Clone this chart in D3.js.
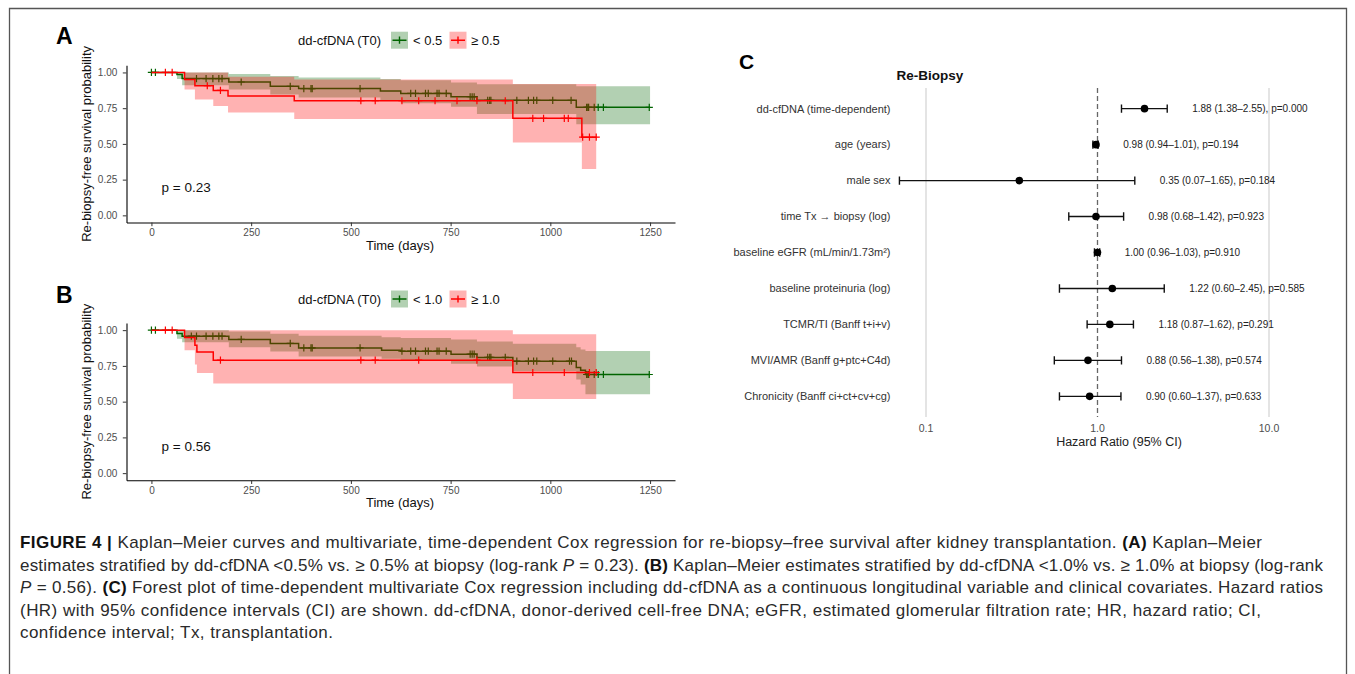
<!DOCTYPE html>
<html>
<head>
<meta charset="utf-8">
<script src="https://cdn.jsdelivr.net/npm/d3@7"></script>
<style>
  body { margin: 0; background: #fff; }
  svg { display: block; }
</style>
</head>
<body>
<svg id="fig" width="1355" height="674"></svg>
<script>
// ---------------- data ----------------
const timeTicks = [0, 250, 500, 750, 1000, 1250];
const survTicks = [0, 0.25, 0.5, 0.75, 1];

// Panel A: dd-cfDNA < 0.5 vs >= 0.5
const aLowTimes  = [0, 64, 77, 194, 298, 369, 574, 625, 751, 816, 1065];
const aLowSurv   = [1, 0.985, 0.957, 0.933, 0.903, 0.887, 0.870, 0.853, 0.830, 0.805, 0.756];
const aLowLower  = [1, 0.955, 0.910, 0.880, 0.845, 0.825, 0.805, 0.785, 0.760, 0.710, 0.637];
const aLowUpper  = [1, 1, 1, 0.990, 0.975, 0.965, 0.955, 0.945, 0.930, 0.918, 0.904];
const aLowEnd    = 1250;
const aLowCensor = [0, 10, 113, 137, 154, 169, 177, 225, 348, 382, 400, 403, 523, 650, 662, 687, 694,
                    716, 721, 739, 799, 804, 809, 843, 848, 851, 916, 945, 958, 966, 1006, 1052,
                    1091, 1094, 1096, 1110, 1120, 1133, 1248];

const aHighTimes  = [0, 83, 109, 155, 192, 358, 906, 1079];
const aHighSurv   = [1, 0.951, 0.907, 0.874, 0.835, 0.802, 0.679, 0.547];
const aHighLower  = [1, 0.880, 0.810, 0.765, 0.720, 0.675, 0.510, 0.325];
const aHighUpper  = [1, 1, 1, 1, 0.970, 0.950, 0.920, 0.920];
const aHighEnd    = 1115;
const aHighCensor = [35, 52, 140, 173, 525, 561, 628, 670, 711, 766, 816, 887, 956, 983, 1035, 1045,
                     1081, 1098, 1115];

// Panel B: dd-cfDNA < 1.0 vs >= 1.0
const bLowTimes  = [0, 64, 77, 194, 298, 369, 577, 625, 751, 816, 906, 1065, 1076, 1088];
const bLowSurv   = [1, 0.977, 0.958, 0.935, 0.907, 0.876, 0.860, 0.853, 0.832, 0.809, 0.783, 0.739, 0.720, 0.690];
const bLowLower  = [1, 0.940, 0.915, 0.880, 0.850, 0.815, 0.800, 0.790, 0.765, 0.745, 0.715, 0.655, 0.620, 0.552];
const bLowUpper  = [1, 1, 1, 0.990, 0.975, 0.960, 0.950, 0.945, 0.935, 0.920, 0.905, 0.880, 0.865, 0.855];
const bLowEnd    = 1250;
const bLowCensor = [0, 10, 100, 113, 137, 154, 169, 177, 225, 348, 382, 400, 403, 523, 628, 650, 662,
                    687, 694, 716, 721, 739, 799, 804, 809, 843, 848, 851, 887, 916, 945, 958, 966,
                    1006, 1048, 1053, 1091, 1094, 1096, 1110, 1120, 1133, 1248];

const bHighTimes  = [0, 83, 109, 114, 155, 906];
const bHighSurv   = [1, 0.949, 0.895, 0.848, 0.790, 0.704];
const bHighLower  = [1, 0.860, 0.760, 0.700, 0.627, 0.519];
const bHighUpper  = [1, 1, 1, 1, 1, 0.972];
const bHighEnd    = 1115;
const bHighCensor = [35, 52, 173, 525, 561, 670, 816, 956, 1035, 1098, 1115];

// Panel C: time-dependent Cox model
const covariates = [
  "dd-cfDNA (time-dependent)",
  "age (years)",
  "male sex",
  "time Tx \u2192 biopsy (log)",
  "baseline eGFR (mL/min/1.73m\u00B2)",
  "baseline proteinuria (log)",
  "TCMR/TI (Banff t+i+v)",
  "MVI/AMR (Banff g+ptc+C4d)",
  "Chronicity (Banff ci+ct+cv+cg)"
];
const hazardRatios = [1.88, 0.98, 0.35, 0.98, 1.00, 1.22, 1.18, 0.88, 0.90];
const ciLower      = [1.38, 0.94, 0.07, 0.68, 0.96, 0.60, 0.87, 0.56, 0.60];
const ciUpper      = [2.55, 1.01, 1.65, 1.42, 1.03, 2.45, 1.62, 1.38, 1.37];
const pValues      = ["0.000", "0.194", "0.184", "0.923", "0.910", "0.585", "0.291", "0.574", "0.633"];
const hrTicks      = [0.1, 1, 10];
const hrTickLabels = ["0.1", "1.0", "10.0"];
const refHR        = 1;

// ---------------- drawing ----------------
const FONT = "'Liberation Sans', Arial, Helvetica, sans-serif";
const COL_LOW = "#006400";
const COL_HIGH = "#ff0000";
const svg = d3.select("#fig").style("font-family", FONT);

svg.append("rect").attr("width", 1355).attr("height", 674).attr("fill", "#fff");
// figure frame
svg.append("path").attr("d", "M9.5,674V8.5H1346.5V674")
  .attr("fill", "none").attr("stroke", "#555").attr("stroke-width", 1.3);

function survAt(times, vals, t) {
  let v = vals[0];
  for (let i = 0; i < times.length; i++) if (times[i] <= t) v = vals[i];
  return v;
}

function drawKM(opt) {
  const x = d3.scaleLinear().domain([-62.5, 1312.5]).range([126.5, 675]);
  const y = d3.scaleLinear().domain([-0.05, 1.05]).range([opt.bottom, opt.top]);
  const g = svg.append("g");

  opt.groups.forEach(gr => {
    const pts = gr.times.map((t, i) => ({ t, s: gr.surv[i], lo: gr.lower[i], hi: gr.upper[i] }));
    const last = pts[pts.length - 1];
    pts.push({ t: gr.end, s: last.s, lo: last.lo, hi: last.hi });

    g.append("path").datum(pts)
      .attr("d", d3.area().curve(d3.curveStepAfter)
        .x(d => x(d.t)).y0(d => y(d.lo)).y1(d => y(d.hi)))
      .attr("fill", gr.color).attr("fill-opacity", 0.3);

    g.append("path").datum(pts)
      .attr("d", d3.line().curve(d3.curveStepAfter).x(d => x(d.t)).y(d => y(d.s)))
      .attr("fill", "none").attr("stroke", gr.color).attr("stroke-width", 1.5);

    g.append("g").selectAll("path").data(gr.censor).join("path")
      .attr("d", c => {
        const cx = x(c), cy = y(survAt(gr.times, gr.surv, c));
        return `M${cx - 3.6},${cy}H${cx + 3.6}M${cx},${cy - 3.6}V${cy + 3.6}`;
      })
      .attr("stroke", gr.color).attr("stroke-width", 1.2);
  });

  // axes
  const xa = g.append("g").attr("transform", `translate(0,${opt.bottom})`)
    .call(d3.axisBottom(x).tickValues(timeTicks).tickFormat(d3.format("d"))
      .tickSize(3.7).tickSizeOuter(0).tickPadding(2.5));
  const ya = g.append("g").attr("transform", `translate(126.5,0)`)
    .call(d3.axisLeft(y).tickValues(survTicks).tickFormat(d3.format(".2f"))
      .tickSize(3.7).tickSizeOuter(0).tickPadding(5.5));
  [xa, ya].forEach(a => {
    a.attr("font-family", FONT).attr("font-size", 10);
    a.select(".domain").attr("stroke", "#000").attr("stroke-width", 1.1);
    a.selectAll(".tick line").attr("stroke", "#333").attr("stroke-width", 1);
    a.selectAll(".tick text").attr("fill", "#4d4d4d");
  });

  // axis titles
  g.append("text").attr("x", 400).attr("y", opt.bottom + 27)
    .attr("text-anchor", "middle").attr("font-size", 13).attr("fill", "#111").text("Time (days)");
  const midY = (opt.top + opt.bottom) / 2;
  g.append("text").attr("transform", `translate(91,${midY}) rotate(-90)`)
    .attr("text-anchor", "middle").attr("font-size", 13).attr("fill", "#111")
    .text("Re-biopsy-free survival probability");

  // p value
  g.append("text").attr("x", 161.5).attr("y", y(opt.pAt) + 4.8)
    .attr("font-size", 13.5).attr("fill", "#111").text(opt.pText);

  // panel letter
  g.append("text").attr("x", 56).attr("y", opt.letterY)
    .attr("font-size", 23).attr("font-weight", "bold").attr("fill", "#000").text(opt.letter);

  // legend
  const ly = opt.legendY;
  g.append("text").attr("x", 298).attr("y", ly + 4.6)
    .attr("font-size", 13).attr("fill", "#111").text("dd-cfDNA (T0)");
  const keys = [
    { x: 391, color: COL_LOW, label: opt.groups[0].label, lx: 413 },
    { x: 449.5, color: COL_HIGH, label: opt.groups[1].label, lx: 471 }
  ];
  keys.forEach(k => {
    g.append("rect").attr("x", k.x).attr("y", ly - 8.5).attr("width", 17).attr("height", 17)
      .attr("fill", k.color).attr("fill-opacity", 0.3);
    const cx = k.x + 8.5;
    g.append("path").attr("d", `M${k.x + 1.5},${ly}H${k.x + 15.5}M${cx},${ly - 3.6}V${ly + 3.6}`)
      .attr("stroke", k.color).attr("stroke-width", 1.4).attr("fill", "none");
    g.append("text").attr("x", k.lx).attr("y", ly + 4.6)
      .attr("font-size", 13).attr("fill", "#111").text(k.label);
  });
}

drawKM({
  top: 65.3, bottom: 222.5, letter: "A", letterY: 44, legendY: 40.2,
  pText: "p = 0.23", pAt: 0.2,
  groups: [
    { times: aLowTimes, surv: aLowSurv, lower: aLowLower, upper: aLowUpper, end: aLowEnd,
      censor: aLowCensor, color: COL_LOW, label: "< 0.5" },
    { times: aHighTimes, surv: aHighSurv, lower: aHighLower, upper: aHighUpper, end: aHighEnd,
      censor: aHighCensor, color: COL_HIGH, label: "\u2265 0.5" }
  ]
});

drawKM({
  top: 323, bottom: 480.3, letter: "B", letterY: 303, legendY: 299,
  pText: "p = 0.56", pAt: 0.19,
  groups: [
    { times: bLowTimes, surv: bLowSurv, lower: bLowLower, upper: bLowUpper, end: bLowEnd,
      censor: bLowCensor, color: COL_LOW, label: "< 1.0" },
    { times: bHighTimes, surv: bHighSurv, lower: bHighLower, upper: bHighUpper, end: bHighEnd,
      censor: bHighCensor, color: COL_HIGH, label: "\u2265 1.0" }
  ]
});

// ---------- forest plot ----------
const fx = d3.scaleLog().domain([0.1, 10]).range([926, 1269]);
const fy = d3.scalePoint().domain(covariates).range([88, 417]).padding(0.575);
const fg = svg.append("g");

fg.append("text").attr("x", 739).attr("y", 68.5)
  .attr("font-size", 21).attr("font-weight", "bold").attr("fill", "#000").text("C");
fg.append("text").attr("x", 896.5).attr("y", 79.5)
  .attr("font-size", 13.5).attr("font-weight", "bold").attr("fill", "#111").text("Re-Biopsy");

hrTicks.filter(t => t !== refHR).forEach(t => {
  fg.append("line").attr("x1", fx(t)).attr("x2", fx(t)).attr("y1", 88).attr("y2", 417)
    .attr("stroke", "#d6d6d6").attr("stroke-width", 1.3);
});
fg.append("line").attr("x1", fx(refHR)).attr("x2", fx(refHR)).attr("y1", 88).attr("y2", 417)
  .attr("stroke", "#666").attr("stroke-width", 1.3).attr("stroke-dasharray", "5,3");

fg.selectAll("text.tick").data(hrTicks).join("text").attr("class", "tick")
  .attr("x", d => fx(d)).attr("y", 431.5).attr("text-anchor", "middle")
  .attr("font-size", 10.5).attr("fill", "#4d4d4d").text((d, i) => hrTickLabels[i]);
fg.append("text").attr("x", 1119).attr("y", 446).attr("text-anchor", "middle")
  .attr("font-size", 12.5).attr("fill", "#222").text("Hazard Ratio (95% CI)");

const rows = fg.selectAll("g.row").data(covariates).join("g").attr("class", "row")
  .attr("transform", d => `translate(0,${fy(d)})`);
rows.append("text").attr("x", 890.5).attr("dy", "0.35em").attr("text-anchor", "end")
  .attr("font-size", 11).attr("fill", "#333").text(d => d);
rows.append("path")
  .attr("d", (d, i) => {
    const a = fx(ciLower[i]), b = fx(ciUpper[i]);
    return `M${a},0H${b}M${a},-4.2V4.2M${b},-4.2V4.2`;
  })
  .attr("stroke", "#111").attr("stroke-width", 1.4).attr("fill", "none");
rows.append("circle").attr("cx", (d, i) => fx(hazardRatios[i])).attr("cy", 0).attr("r", 3.8)
  .attr("fill", "#000");
rows.append("text").attr("x", (d, i) => fx(ciUpper[i]) + 25).attr("dy", "0.35em")
  .attr("font-size", 10).attr("fill", "#222")
  .text((d, i) => `${hazardRatios[i].toFixed(2)} (${ciLower[i].toFixed(2)}\u2013${ciUpper[i].toFixed(2)}), p=${pValues[i]}`);

// ---------- caption ----------
const captionLines = [
  { width: 1242, parts: [["FIGURE 4 |", "b"], [" Kaplan\u2013Meier curves and multivariate, time-dependent Cox regression for re-biopsy\u2013free survival after kidney transplantation. "], ["(A)", "b"], [" Kaplan\u2013Meier"]] },
  { width: 1303, parts: [["estimates stratified by dd-cfDNA <0.5% vs. \u2265 0.5% at biopsy (log-rank "], ["P", "i"], [" = 0.23). "], ["(B)", "b"], [" Kaplan\u2013Meier estimates stratified by dd-cfDNA <1.0% vs. \u2265 1.0% at biopsy (log-rank"]] },
  { width: 1303, parts: [["P", "i"], [" = 0.56). "], ["(C)", "b"], [" Forest plot of time-dependent multivariate Cox regression including dd-cfDNA as a continuous longitudinal variable and clinical covariates. Hazard ratios"]] },
  { width: 1241, parts: [["(HR) with 95% confidence intervals (CI) are shown. dd-cfDNA, donor-derived cell-free DNA; eGFR, estimated glomerular filtration rate; HR, hazard ratio; CI,"]] },
  { width: 313, parts: [["confidence interval; Tx, transplantation."]] }
];
const cg = svg.append("g").attr("font-size", 17).attr("fill", "#2a2a2a");
captionLines.forEach((ln, i) => {
  const t = cg.append("text").attr("x", 20).attr("y", 548 + i * 22.6)
    .attr("textLength", ln.width).attr("lengthAdjust", "spacing");
  ln.parts.forEach(p => {
    const s = t.append("tspan").text(p[0]);
    if (p[1] === "b") s.attr("font-weight", "bold").attr("fill", "#111");
    if (p[1] === "i") s.attr("font-style", "italic");
  });
});
</script>
</body>
</html>
